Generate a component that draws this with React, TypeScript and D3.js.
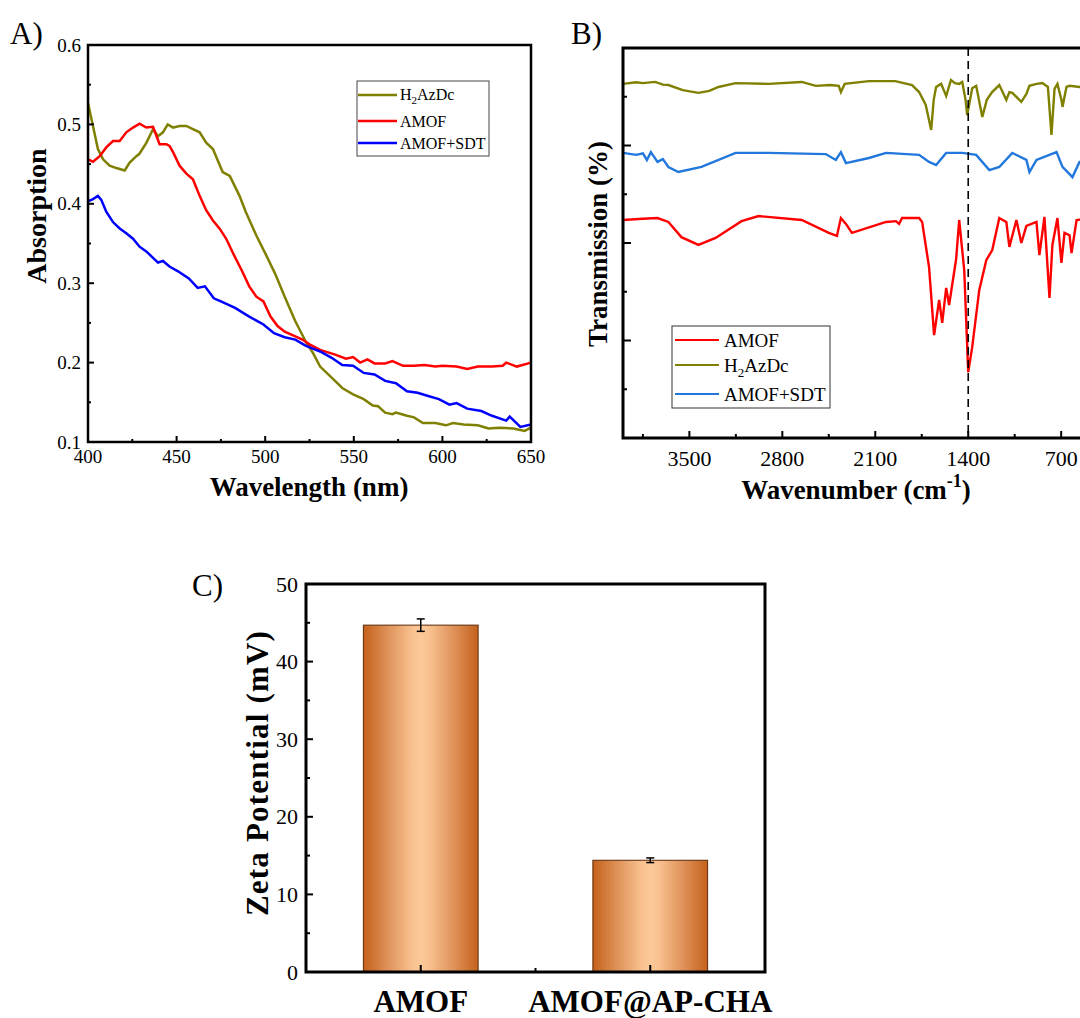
import React from "react";
import * as d3 from "d3";

// ---------- Panel A data (UV-vis) ----------
const uvH2AzDc: [number, number][] = [
  [400, 0.527], [402.8, 0.498], [405.6, 0.469], [408.5, 0.456], [412.2, 0.448], [416, 0.445],
  [420.7, 0.442], [423.5, 0.452], [427.3, 0.46], [429, 0.463], [433, 0.477], [436.7, 0.494],
  [439.5, 0.485], [442.3, 0.49], [445, 0.5], [448, 0.496], [451.7, 0.498], [455.5, 0.498],
  [459.2, 0.494], [463, 0.49], [466.7, 0.477], [470.5, 0.469], [476, 0.44], [480, 0.435],
  [485.5, 0.41], [489, 0.39], [495, 0.36], [500.6, 0.335], [506, 0.31], [511, 0.283],
  [517, 0.252], [523, 0.226], [527, 0.212], [531, 0.195], [537.5, 0.181], [543.5, 0.168],
  [549.6, 0.16], [555.6, 0.154], [560.7, 0.146], [563.7, 0.145], [567.7, 0.137], [571.8, 0.135],
  [573.8, 0.137], [580, 0.133], [584, 0.131], [589, 0.124], [596, 0.124], [602, 0.121],
  [606, 0.124], [612, 0.122], [620, 0.121], [626, 0.117], [632, 0.118], [640, 0.117],
  [646.4, 0.114], [650, 0.118],
];
const uvAMOF: [number, number][] = [
  [400, 0.456], [402.8, 0.453], [406.6, 0.46], [410.3, 0.471], [414.1, 0.479], [417.9, 0.479],
  [421.6, 0.49], [425.4, 0.496], [429.1, 0.501], [432.9, 0.496], [436.7, 0.497], [440.4, 0.475],
  [444.2, 0.475], [446, 0.473], [448, 0.465], [451.7, 0.448], [455.5, 0.438], [459.2, 0.431],
  [463, 0.41], [466.7, 0.392], [470.5, 0.379], [474.2, 0.369], [478, 0.356], [481.8, 0.338],
  [487, 0.315], [491, 0.296], [495, 0.283], [499, 0.277], [503, 0.258], [507, 0.246],
  [511, 0.239], [517, 0.233], [521, 0.229], [525, 0.223], [531, 0.216], [539.5, 0.21],
  [545.6, 0.205], [549.6, 0.207], [553.6, 0.2], [557.7, 0.204], [561.7, 0.199], [567.7, 0.199],
  [571.8, 0.202], [577.8, 0.196], [584, 0.196], [590, 0.197], [596, 0.195], [600, 0.196],
  [608, 0.195], [614, 0.192], [620, 0.195], [628, 0.195], [634, 0.196], [636, 0.2],
  [642, 0.195], [650, 0.2],
];
const uvAMOFSDT: [number, number][] = [
  [400, 0.403], [402.8, 0.406], [405.6, 0.41], [407.5, 0.405], [410.3, 0.39], [414.1, 0.377],
  [417.9, 0.369], [421.6, 0.363], [425.4, 0.356], [429.1, 0.346], [432.9, 0.34], [436.7, 0.332],
  [439.5, 0.326], [442.3, 0.328], [446, 0.321], [450.8, 0.315], [456.9, 0.306], [461.9, 0.294],
  [466, 0.296], [471, 0.281], [475, 0.277], [483, 0.269], [491, 0.258], [499, 0.248],
  [505, 0.237], [511, 0.232], [517, 0.229], [523, 0.221], [531, 0.214], [537.5, 0.206],
  [543.5, 0.197], [549.6, 0.196], [555.6, 0.187], [561.7, 0.185], [567.7, 0.177], [573.8, 0.174],
  [580, 0.164], [586, 0.162], [592, 0.158], [598, 0.154], [604, 0.147], [608, 0.149],
  [614, 0.142], [622, 0.139], [628, 0.133], [636, 0.127], [638, 0.132], [644, 0.119],
  [650, 0.122],
];
const uvXTicks = [400, 450, 500, 550, 600, 650];
const uvYTicks = [0.1, 0.2, 0.3, 0.4, 0.5, 0.6];

// ---------- Panel B data (FTIR) ----------
const irH2AzDc: [number, number][] = [
  [4000, 90.8], [3900, 91.2], [3850, 91.0], [3757, 91.3], [3700, 90.6], [3658, 90.5], [3550, 89.2],
  [3432, 88.5], [3350, 89.0], [3281, 90.0], [3152, 91.0], [2903, 90.8], [2654, 91.3], [2548, 90.3],
  [2440, 90.5], [2375, 90.3], [2359, 88.7], [2330, 90.8], [2148, 91.5], [1950, 91.5], [1823, 90.5],
  [1770, 88.7], [1720, 85.4], [1679, 79.0], [1660, 86.7], [1642, 90.0], [1604, 90.8], [1566, 87.7],
  [1530, 91.8], [1500, 91.0], [1468, 90.8], [1445, 91.3], [1420, 86.7], [1408, 82.8], [1390, 86.0],
  [1370, 89.7], [1340, 90.3], [1294, 82.3], [1260, 86.7], [1220, 88.7], [1166, 90.5], [1113, 86.7],
  [1090, 88.7], [1068, 88.5], [1000, 86.2], [962, 88.2], [939, 90.3], [886, 90.8], [841, 91.0],
  [800, 90.0], [773, 77.7], [750, 89.5], [728, 90.8], [698, 86.7], [690, 84.9], [660, 90.0],
  [637, 90.3], [562, 90.0], [480, 89.8], [400, 90.0],
];
const irAMOFSDT: [number, number][] = [
  [4000, 73.1], [3900, 72.6], [3850, 73.0], [3820, 71.3], [3790, 73.3], [3740, 70.8], [3700, 71.5],
  [3658, 69.5], [3583, 68.2], [3409, 69.5], [3152, 73.1], [2903, 73.1], [2473, 72.8], [2397, 71.3],
  [2359, 73.3], [2321, 70.5], [2148, 71.8], [2019, 73.1], [1770, 72.6], [1695, 70.8], [1642, 70.0],
  [1566, 73.1], [1445, 73.1], [1340, 72.6], [1241, 68.7], [1166, 69.5], [1068, 73.1], [962, 71.3],
  [939, 68.2], [886, 71.3], [735, 73.3], [690, 69.5], [615, 66.9], [562, 70.8], [400, 71.0],
];
const irAMOF: [number, number][] = [
  [4000, 55.9], [3850, 56.2], [3740, 56.4], [3658, 55.4], [3560, 51.5], [3432, 49.5], [3303, 51.3],
  [3107, 55.6], [2979, 56.9], [2654, 55.9], [2450, 52.6], [2389, 51.8], [2359, 56.4], [2321, 54.9],
  [2276, 52.6], [2019, 55.4], [1944, 55.6], [1921, 54.9], [1898, 56.4], [1770, 56.4], [1747, 55.4],
  [1695, 43.8], [1657, 26.4], [1619, 35.4], [1596, 29.5], [1566, 38.5], [1544, 34.1], [1491, 45.9],
  [1468, 55.9], [1430, 43.0], [1400, 16.9], [1370, 23.3], [1317, 37.9], [1264, 45.6], [1219, 48.2],
  [1166, 56.4], [1113, 55.4], [1090, 49.0], [1037, 55.9], [1000, 50.0], [962, 54.4], [886, 55.4],
  [864, 46.9], [826, 56.7], [788, 35.9], [766, 49.5], [728, 56.4], [698, 44.9], [675, 52.6],
  [637, 52.0], [622, 47.4], [584, 55.9], [500, 56.2], [400, 56.0],
];
const irXTicks = [3500, 2800, 2100, 1400, 700];
const irXMinor = [3850, 3150, 2450, 1750, 1050];
const irYTicks = [25, 50, 75, 100];
const irYMinor = [12.5, 37.5, 62.5, 87.5];
const irMarker = 1400;

// ---------- Panel C data (Zeta) ----------
const zetaCategories = ["AMOF", "AMOF@AP-CHA"];
const zetaValues = [44.7, 14.4];
const zetaErrors = [0.8, 0.3];
const zetaYTicks = [0, 10, 20, 30, 40, 50];

const SERIF = "'Liberation Serif', 'Times New Roman', serif";

export default function App() {
  // Panel A scales
  const xA = d3.scaleLinear().domain([400, 650]).range([88, 531]);
  const yA = d3.scaleLinear().domain([0.1, 0.6]).range([442, 45]);
  const lineA = d3.line<[number, number]>().x((d) => xA(d[0])).y((d) => yA(d[1]));
  const uvXMinor = d3.range(425, 650, 50);
  const uvYMinor = d3.range(0.15, 0.6, 0.1);

  // Panel B scales
  const xB = d3.scaleLinear().domain([4000, 400]).range([623, 1101]);
  const yB = d3.scaleLinear().domain([0, 100]).range([438, 48]);
  const lineB = d3.line<[number, number]>().x((d) => xB(d[0])).y((d) => yB(d[1]));

  // Panel C scales
  const xC = d3.scaleLinear().domain([0.5, 2.5]).range([306, 765]);
  const yC = d3.scaleLinear().domain([0, 50]).range([972, 584]);
  const zetaYMinor = [5, 15, 25, 35, 45];
  const barW = xC(1.25) - xC(0.75);

  return (
    <svg
      width={1080}
      height={1018}
      style={{ position: "absolute", left: 0, top: 0, background: "#fff" }}
      fontFamily={SERIF}
    >
      <defs>
        <linearGradient id="barGrad" x1="0" x2="1" y1="0" y2="0">
          <stop offset="0" stopColor="#C5611C" />
          <stop offset="0.2" stopColor="#DD8F55" />
          <stop offset="0.42" stopColor="#F8C08E" />
          <stop offset="0.5" stopColor="#FCC999" />
          <stop offset="0.58" stopColor="#F8C08E" />
          <stop offset="0.8" stopColor="#DD8F55" />
          <stop offset="1" stopColor="#C5611C" />
        </linearGradient>
      </defs>
      <rect x={0} y={0} width={1080} height={1018} fill="#fff" />

      {/* ================= Panel A ================= */}
      <text x={10} y={44} fontSize={31}>A)</text>
      <path d={lineA(uvH2AzDc) || ""} fill="none" stroke="#808000" strokeWidth={2.5} />
      <path d={lineA(uvAMOF) || ""} fill="none" stroke="#FF0000" strokeWidth={2.5} />
      <path d={lineA(uvAMOFSDT) || ""} fill="none" stroke="#0000FF" strokeWidth={2.5} />
      <rect x={88} y={45} width={443} height={397} fill="none" stroke="#000" strokeWidth={2.5} />
      {uvXTicks.map((t) => (
        <g key={"ax" + t}>
          <line x1={xA(t)} x2={xA(t)} y1={442} y2={436} stroke="#000" strokeWidth={2} />
          <text x={xA(t)} y={463} fontSize={19} textAnchor="middle">{t}</text>
        </g>
      ))}
      {uvXMinor.map((t) => (
        <line key={"axm" + t} x1={xA(t)} x2={xA(t)} y1={442} y2={439} stroke="#000" strokeWidth={2} />
      ))}
      {uvYTicks.map((t) => (
        <g key={"ay" + t}>
          <line x1={88} x2={94} y1={yA(t)} y2={yA(t)} stroke="#000" strokeWidth={2} />
          <text x={81} y={yA(t)} fontSize={19} textAnchor="end" dominantBaseline="central">{t.toFixed(1)}</text>
        </g>
      ))}
      {uvYMinor.map((t) => (
        <line key={"aym" + t} x1={88} x2={91} y1={yA(t)} y2={yA(t)} stroke="#000" strokeWidth={2} />
      ))}
      <text x={309} y={496} fontSize={27} fontWeight="bold" textAnchor="middle">Wavelength (nm)</text>
      <text
        transform="translate(36,216) rotate(-90)"
        fontSize={28}
        fontWeight="bold"
        textAnchor="middle"
        dominantBaseline="central"
      >
        Absorption
      </text>
      {/* legend A */}
      <rect x={357} y={81} width={132} height={75} fill="#fff" stroke="#444" strokeWidth={1} />
      <line x1={358} x2={397} y1={95} y2={95} stroke="#808000" strokeWidth={2.5} />
      <text x={400} y={100} fontSize={16}>
        H<tspan fontSize={11} dy={4}>2</tspan><tspan dy={-4}>AzDc</tspan>
      </text>
      <line x1={358} x2={397} y1={121} y2={121} stroke="#FF0000" strokeWidth={2.5} />
      <text x={400} y={127} fontSize={16}>AMOF</text>
      <line x1={358} x2={397} y1={143} y2={143} stroke="#0000FF" strokeWidth={2.5} />
      <text x={400} y={149} fontSize={16}>AMOF+SDT</text>

      {/* ================= Panel B ================= */}
      <text x={571} y={44} fontSize={31}>B)</text>
      <path d={lineB(irH2AzDc) || ""} fill="none" stroke="#808000" strokeWidth={2.4} />
      <path d={lineB(irAMOFSDT) || ""} fill="none" stroke="#2277DD" strokeWidth={2.4} />
      <path d={lineB(irAMOF) || ""} fill="none" stroke="#FF0000" strokeWidth={2.4} />
      <line
        x1={xB(irMarker)}
        x2={xB(irMarker)}
        y1={48}
        y2={438}
        stroke="#000"
        strokeWidth={1.6}
        strokeDasharray="8,5"
      />
      <rect x={623} y={48} width={478} height={390} fill="none" stroke="#000" strokeWidth={3} />
      {irXTicks.map((t) => (
        <g key={"bx" + t}>
          <line x1={xB(t)} x2={xB(t)} y1={438} y2={431} stroke="#000" strokeWidth={2} />
          <text x={xB(t)} y={466} fontSize={22} textAnchor="middle">{t}</text>
        </g>
      ))}
      {irXMinor.map((t) => (
        <line key={"bxm" + t} x1={xB(t)} x2={xB(t)} y1={438} y2={434} stroke="#000" strokeWidth={2} />
      ))}
      {irYTicks.map((t) => (
        <line key={"by" + t} x1={623} x2={631} y1={yB(t)} y2={yB(t)} stroke="#000" strokeWidth={2} />
      ))}
      {irYMinor.map((t) => (
        <line key={"bym" + t} x1={623} x2={627} y1={yB(t)} y2={yB(t)} stroke="#000" strokeWidth={2} />
      ))}
      <text x={856} y={499} fontSize={27} fontWeight="bold" textAnchor="middle">
        Wavenumber (cm<tspan fontSize={18} dy={-12}>-1</tspan><tspan dy={12}>)</tspan>
      </text>
      <text
        transform="translate(598,244) rotate(-90)"
        fontSize={27}
        fontWeight="bold"
        textAnchor="middle"
        dominantBaseline="central"
      >
        Transmission (%)
      </text>
      {/* legend B */}
      <rect x={672} y={326} width={158} height={82} fill="#fff" stroke="#333" strokeWidth={1} />
      <line x1={675} x2={719} y1={340} y2={340} stroke="#FF0000" strokeWidth={2.2} />
      <text x={724} y={347} fontSize={19}>AMOF</text>
      <line x1={675} x2={719} y1={365} y2={365} stroke="#808000" strokeWidth={2.2} />
      <text x={724} y={372} fontSize={19}>
        H<tspan fontSize={13} dy={5}>2</tspan><tspan dy={-5}>AzDc</tspan>
      </text>
      <line x1={675} x2={719} y1={394} y2={394} stroke="#2277DD" strokeWidth={2.2} />
      <text x={724} y={401} fontSize={19}>AMOF+SDT</text>

      {/* ================= Panel C ================= */}
      <text x={192} y={596} fontSize={31}>C)</text>
      {zetaValues.map((v, i) => (
        <g key={"bar" + i}>
          <rect
            x={xC(i + 1) - barW / 2}
            y={yC(v)}
            width={barW}
            height={yC(0) - yC(v)}
            fill="url(#barGrad)"
            stroke="#5a2a08"
            strokeWidth={1}
          />
          <line x1={xC(i + 1)} x2={xC(i + 1)} y1={yC(v + zetaErrors[i])} y2={yC(v - zetaErrors[i])} stroke="#000" strokeWidth={1.5} />
          <line x1={xC(i + 1) - 4} x2={xC(i + 1) + 4} y1={yC(v + zetaErrors[i])} y2={yC(v + zetaErrors[i])} stroke="#000" strokeWidth={1.5} />
          <line x1={xC(i + 1) - 4} x2={xC(i + 1) + 4} y1={yC(v - zetaErrors[i])} y2={yC(v - zetaErrors[i])} stroke="#000" strokeWidth={1.5} />
        </g>
      ))}
      <rect x={306} y={584} width={459} height={388} fill="none" stroke="#000" strokeWidth={3} />
      {zetaCategories.map((c, i) => (
        <g key={"cx" + c}>
          <line x1={xC(i + 1)} x2={xC(i + 1)} y1={972} y2={965} stroke="#000" strokeWidth={2} />
          <text x={xC(i + 1)} y={1012} fontSize={31} fontWeight="bold" textAnchor="middle">{c}</text>
        </g>
      ))}
      <line x1={xC(1.5)} x2={xC(1.5)} y1={972} y2={968} stroke="#000" strokeWidth={2} />
      {zetaYTicks.map((t) => (
        <g key={"cy" + t}>
          <line x1={306} x2={313} y1={yC(t)} y2={yC(t)} stroke="#000" strokeWidth={2} />
          <text x={298} y={yC(t)} fontSize={22} textAnchor="end" dominantBaseline="central">{t}</text>
        </g>
      ))}
      {zetaYMinor.map((t) => (
        <line key={"cym" + t} x1={306} x2={310} y1={yC(t)} y2={yC(t)} stroke="#000" strokeWidth={2} />
      ))}
      <text
        transform="translate(257,773) rotate(-90)"
        fontSize={31}
        fontWeight="bold"
        letterSpacing={1.2}
        textAnchor="middle"
        dominantBaseline="central"
      >
        Zeta Potential (mV)
      </text>
    </svg>
  );
}
